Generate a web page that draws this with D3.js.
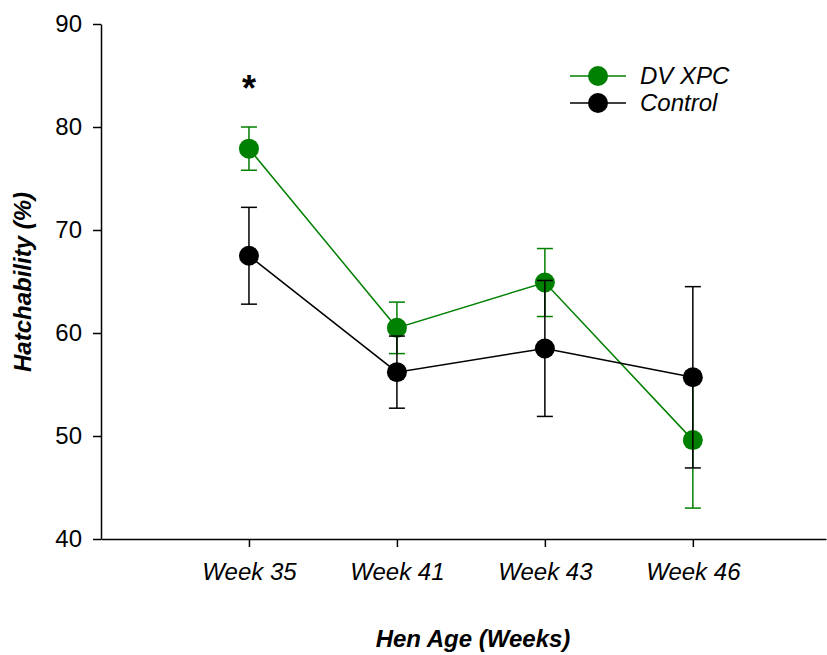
<!DOCTYPE html>
<html>
<head>
<meta charset="utf-8">
<script src="https://cdn.jsdelivr.net/npm/d3@7"></script>
<style>
  body { margin: 0; background: #fff; }
  svg { display: block; font-family: "Liberation Sans", Arial, sans-serif; }
</style>
</head>
<body>
<div id="container"></div>
<script>
/* DATA */
const weeks = ["Week 35", "Week 41", "Week 43", "Week 46"];
const dvMean = [77.9, 60.5, 64.9, 49.6];
const dvErr = [2.1, 2.5, 3.3, 6.6];
const ctrlMean = [67.5, 56.2, 58.5, 55.7];
const ctrlErr = [4.7, 3.5, 6.6, 8.8];
const yTicks = [40, 50, 60, 70, 80, 90];

/* CONSTANTS */
const width = 827, height = 655;
const margin = { top: 24, bottom: 116, left: 101, right: 1 };

const series = [
  { name: "DV XPC", color: "#008000", mean: dvMean, err: dvErr },
  { name: "Control", color: "#000000", mean: ctrlMean, err: ctrlErr }
];

/* SCALES */
const xScale = d3.scaleLinear()
  .domain([0, 4.9])
  .range([margin.left, width - margin.right]);

const yScale = d3.scaleLinear()
  .domain([40, 90])
  .range([height - margin.bottom, margin.top]);

/* SVG */
const svg = d3.select("#container")
  .append("svg")
  .attr("width", width)
  .attr("height", height);

// axes
const xAxis = d3.axisBottom(xScale)
  .tickValues([1, 2, 3, 4])
  .tickFormat(d => weeks[d - 1])
  .tickSize(8)
  .tickSizeOuter(0)
  .tickPadding(16);

const gx = svg.append("g")
  .attr("transform", `translate(0, ${yScale(40)})`)
  .call(xAxis);
gx.selectAll("text")
  .attr("font-size", 24)
  .attr("font-style", "italic")
  .attr("font-family", "'Liberation Sans', Arial, sans-serif");

const yAxis = d3.axisLeft(yScale)
  .tickValues(yTicks)
  .tickSize(8)
  .tickSizeOuter(0)
  .tickPadding(11);

const gy = svg.append("g")
  .attr("transform", `translate(${margin.left}, 0)`)
  .call(yAxis);
gy.selectAll("text")
  .attr("font-size", 24)
  .attr("font-family", "'Liberation Sans', Arial, sans-serif");

svg.selectAll(".domain, .tick line")
  .attr("stroke", "#000")
  .attr("stroke-width", 1.5);

// axis titles
svg.append("text")
  .attr("x", 473)
  .attr("y", 647)
  .attr("text-anchor", "middle")
  .attr("font-size", 24)
  .attr("font-weight", "bold")
  .attr("font-style", "italic")
  .text("Hen Age (Weeks)");

svg.append("text")
  .attr("transform", "translate(31, 282) rotate(-90)")
  .attr("text-anchor", "middle")
  .attr("font-size", 24)
  .attr("font-weight", "bold")
  .attr("font-style", "italic")
  .text("Hatchability (%)");

/* DRAW SERIES */
const line = d3.line()
  .x((d, i) => xScale(i + 1))
  .y(d => yScale(d));

series.forEach(s => {
  const g = svg.append("g");

  g.append("path")
    .datum(s.mean)
    .attr("fill", "none")
    .attr("stroke", s.color)
    .attr("stroke-width", 1.5)
    .attr("d", line);

  const bars = g.selectAll(".err")
    .data(s.mean.map((m, i) => ({ i: i + 1, m, e: s.err[i] })))
    .join("g")
    .attr("class", "err")
    .attr("stroke", s.color)
    .attr("stroke-width", 1.5);

  bars.append("line")
    .attr("x1", d => xScale(d.i)).attr("x2", d => xScale(d.i))
    .attr("y1", d => yScale(d.m - d.e)).attr("y2", d => yScale(d.m + d.e));
  bars.append("line")
    .attr("x1", d => xScale(d.i) - 8).attr("x2", d => xScale(d.i) + 8)
    .attr("y1", d => yScale(d.m + d.e)).attr("y2", d => yScale(d.m + d.e));
  bars.append("line")
    .attr("x1", d => xScale(d.i) - 8).attr("x2", d => xScale(d.i) + 8)
    .attr("y1", d => yScale(d.m - d.e)).attr("y2", d => yScale(d.m - d.e));

  g.selectAll("circle")
    .data(s.mean)
    .join("circle")
    .attr("cx", (d, i) => xScale(i + 1))
    .attr("cy", d => yScale(d))
    .attr("r", 10)
    .attr("fill", s.color);
});

// significance marker
svg.append("text")
  .attr("x", xScale(1))
  .attr("y", 101)
  .attr("text-anchor", "middle")
  .attr("font-size", 36)
  .attr("font-weight", "bold")
  .text("*");

/* LEGEND */
const legend = svg.append("g")
  .selectAll("g")
  .data(series)
  .join("g")
  .attr("transform", (d, i) => `translate(570, ${76 + i * 27})`);

legend.append("line")
  .attr("x1", 0).attr("x2", 56)
  .attr("stroke", d => d.color)
  .attr("stroke-width", 1.5);
legend.append("circle")
  .attr("cx", 28)
  .attr("r", 10)
  .attr("fill", d => d.color);
legend.append("text")
  .attr("x", 70)
  .attr("y", 8)
  .attr("font-size", 24)
  .attr("font-style", "italic")
  .text(d => d.name);
</script>
</body>
</html>
